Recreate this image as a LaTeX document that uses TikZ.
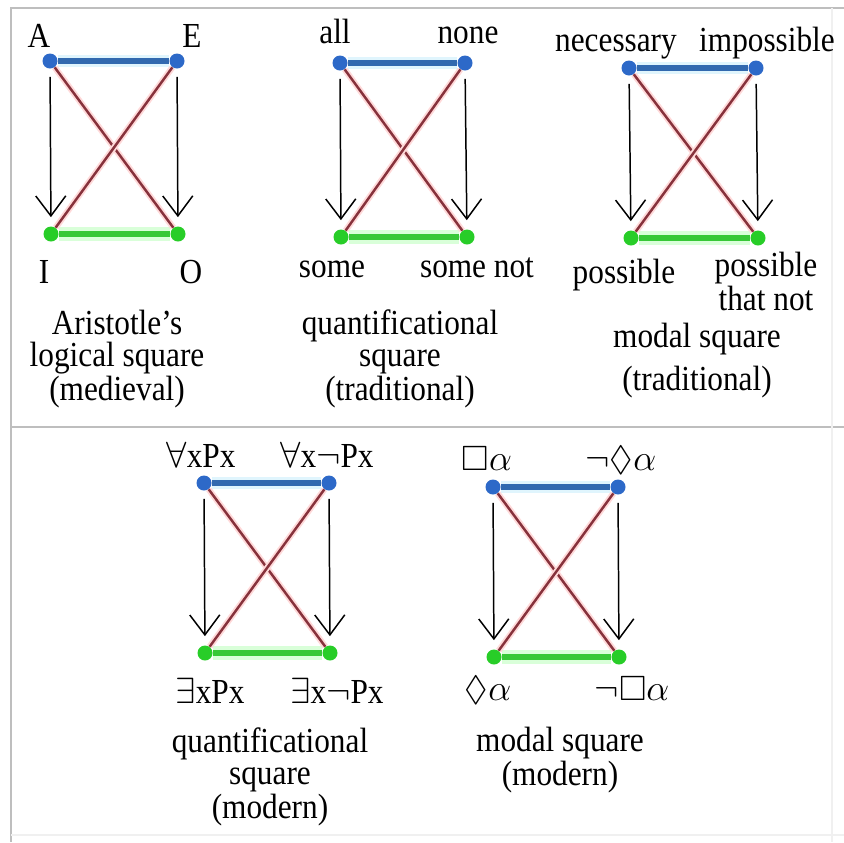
\documentclass[tikz,border=0pt]{standalone}
\usepackage{amssymb}
\usepackage{fontspec}
\setmainfont{Liberation Serif}[FakeStretch=0.89]
\usetikzlibrary{arrows.meta, backgrounds}
\definecolor{topblue}{RGB}{50,105,175}
\definecolor{dotblue}{RGB}{45,105,200}
\definecolor{botgreen}{RGB}{55,200,55}
\definecolor{dotgreen}{RGB}{40,205,40}
\definecolor{crossred}{RGB}{135,50,60}
\definecolor{framegray}{RGB}{190,190,190}

\begin{document}
\begin{tikzpicture}[
    x=0.2mm, y=-0.2mm,
    >={Straight Barb[length=4mm, width=6mm]},
    every node/.style={font=\fontsize{20}{18}\selectfont},
    univ/.style={circle, inner sep=0pt, minimum size=3mm, fill=dotblue},
    part/.style={circle, inner sep=0pt, minimum size=3mm, fill=dotgreen},
    corner/.style={anchor=base, inner sep=0pt},
    caption/.style={anchor=base, align=center, inner sep=0pt},
    contrary/.style={draw=topblue, line width=2.9pt, preaction={draw=cyan!12, line width=7pt}},
    subcontrary/.style={draw=botgreen, line width=3.4pt, preaction={draw=green!15, line width=8pt}},
    contradictory/.style={draw=crossred, line width=1.4pt, preaction={draw=red!15, line width=3.5pt}},
    subaltern/.style={->, line width=0.85pt, shorten <=1.6mm, shorten >=1.8mm},
]
    \useasboundingbox (0,0) rectangle (844,842);

    % Frame
    \draw[framegray, line width=1.1pt] (11,842) -- (11,8) -- (844,8);
    \draw[framegray, line width=1.1pt] (11,427) -- (844,427);
    \draw[black!6, line width=1pt] (832,8) -- (832,842);
    \draw[black!6, line width=1pt] (11,835) -- (844,835);

    % Aristotle's square
    \node[univ] (A) at (50,61) {};
    \node[univ] (E) at (177,61) {};
    \node[part] (I) at (51,234) {};
    \node[part] (O) at (178,234) {};
    \node[corner] (A-lbl) at (39,47) {A};
    \node[corner] (E-lbl) at (192,47) {E};
    \node[corner] (I-lbl) at (44,283) {I};
    \node[corner] (O-lbl) at (191,283) {O};
    \node[caption] (cap-arist) at (117,400) {Aristotle's\\logical square\\(medieval)};

    % Quantificational square (traditional)
    \node[univ] (all) at (340,63) {};
    \node[univ] (none) at (465,63) {};
    \node[part] (some) at (341,237) {};
    \node[part] (somenot) at (467,237) {};
    \node[corner] (all-lbl) at (335,43) {all};
    \node[corner] (none-lbl) at (468,43) {none};
    \node[corner] (some-lbl) at (332,277) {some};
    \node[corner] (somenot-lbl) at (477,277) {some not};
    \node[caption] (cap-qtrad) at (400,400) {quantificational\\square\\(traditional)};

    % Modal square (traditional)
    \node[univ] (nec) at (629,68) {};
    \node[univ] (imp) at (756,68) {};
    \node[part] (pos) at (631,238) {};
    \node[part] (posnot) at (758,238) {};
    \node[corner] (nec-lbl) at (616,51) {necessary};
    \node[corner] (imp-lbl) at (767,51) {impossible};
    \node[corner] (pos-lbl) at (624,283) {possible};
    \node[caption] (posnot-lbl) at (766,310) {possible\\that not};
    \node[caption] (cap-mtrad) at (697,390) {modal square\\[5pt](traditional)};

    % Quantificational square (modern)
    \node[univ] (fa) at (204,483) {};
    \node[univ] (fan) at (329,483) {};
    \node[part] (ex) at (205,653) {};
    \node[part] (exn) at (330,653) {};
    \node[corner] (fa-lbl) at (201,467) {$\forall$xPx};
    \node[corner] (fan-lbl) at (327,467) {$\forall$x$\neg$Px};
    \node[corner] (ex-lbl) at (210,703) {$\exists$xPx};
    \node[corner] (exn-lbl) at (337,703) {$\exists$x$\neg$Px};
    \node[caption] (cap-qmod) at (270,818) {quantificational\\square\\(modern)};

    % Modal square (modern)
    \node[univ] (box) at (493,487) {};
    \node[univ] (ndia) at (618,487) {};
    \node[part] (dia) at (494,657) {};
    \node[part] (nbox) at (619,657) {};
    \node[corner] (box-lbl) at (487,470) {$\Box\alpha$};
    \node[corner] (ndia-lbl) at (621,470) {$\neg\Diamond\alpha$};
    \node[corner] (dia-lbl) at (488,700) {$\Diamond\alpha$};
    \node[corner] (nbox-lbl) at (632,700) {$\neg\Box\alpha$};
    \node[caption] (cap-mmod) at (560,785) {modal square\\(modern)};

    % Contraries, subcontraries, contradictories
    \begin{scope}[on background layer]
        \draw[contrary] (A) -- (E);
        \draw[subcontrary] (I) -- (O);
        \draw[contradictory] (A) -- (O);
        \draw[contradictory] (E) -- (I);

        \draw[contrary] (all) -- (none);
        \draw[subcontrary] (some) -- (somenot);
        \draw[contradictory] (all) -- (somenot);
        \draw[contradictory] (none) -- (some);

        \draw[contrary] (nec) -- (imp);
        \draw[subcontrary] (pos) -- (posnot);
        \draw[contradictory] (nec) -- (posnot);
        \draw[contradictory] (imp) -- (pos);

        \draw[contrary] (fa) -- (fan);
        \draw[subcontrary] (ex) -- (exn);
        \draw[contradictory] (fa) -- (exn);
        \draw[contradictory] (fan) -- (ex);

        \draw[contrary] (box) -- (ndia);
        \draw[subcontrary] (dia) -- (nbox);
        \draw[contradictory] (box) -- (nbox);
        \draw[contradictory] (ndia) -- (dia);
    \end{scope}

    % Subalterns
    \draw[subaltern] (A) -- (I);
    \draw[subaltern] (E) -- (O);
    \draw[subaltern] (all) -- (some);
    \draw[subaltern] (none) -- (somenot);
    \draw[subaltern] (nec) -- (pos);
    \draw[subaltern] (imp) -- (posnot);
    \draw[subaltern] (fa) -- (ex);
    \draw[subaltern] (fan) -- (exn);
    \draw[subaltern] (box) -- (dia);
    \draw[subaltern] (ndia) -- (nbox);
\end{tikzpicture}
\end{document}
